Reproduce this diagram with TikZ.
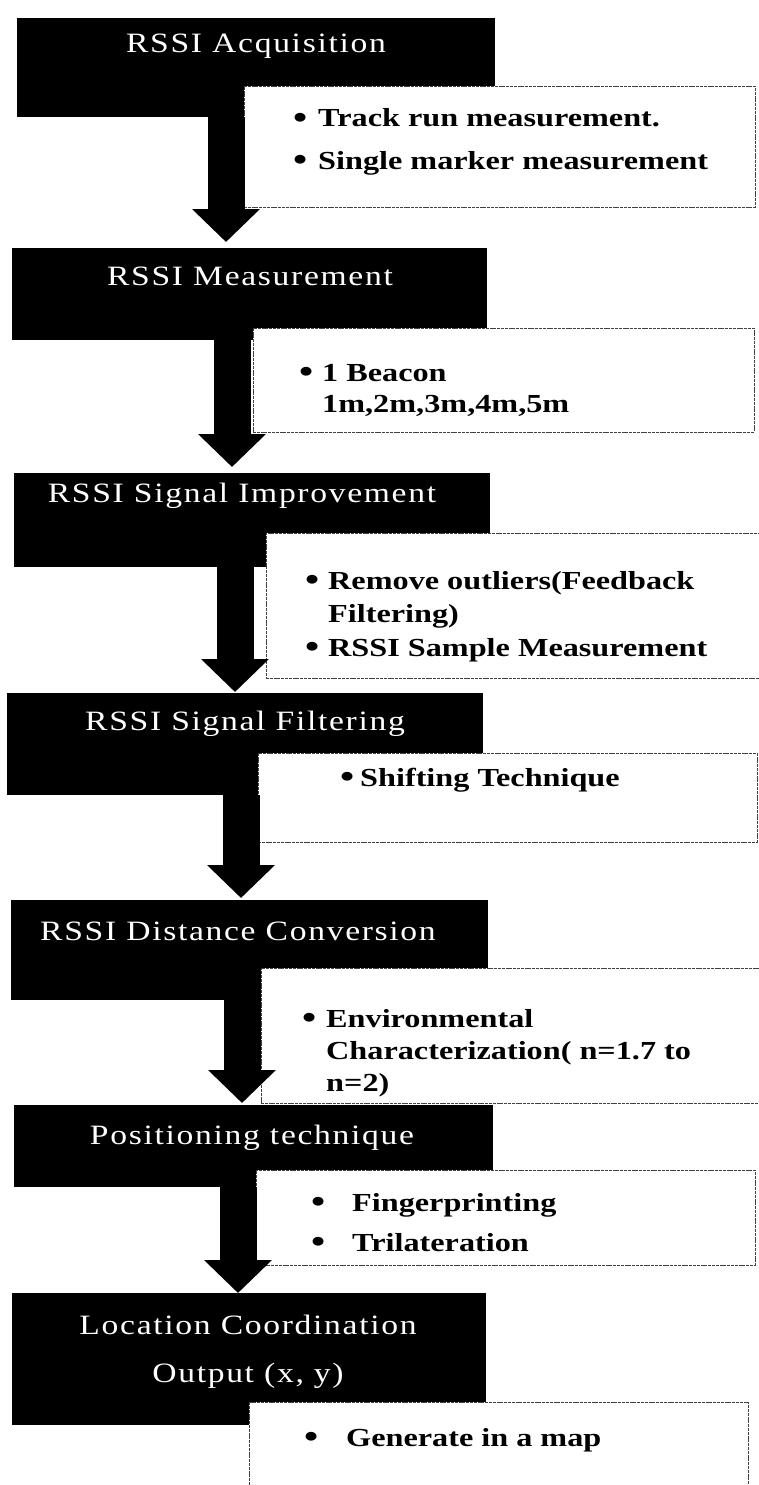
\documentclass[tikz,border=0pt]{standalone}
\usepackage{fontspec}
\setmainfont{Liberation Serif}
\newfontfamily\titlefont[FakeStretch=1.2,LetterSpace=6]{Liberation Serif}
\newfontfamily\itemfont[FakeStretch=1.24]{Liberation Serif}
\usetikzlibrary{arrows.meta}
\newcommand{\bitem}[2]{\llap{\raisebox{-1.6pt}{\scalebox{1.25}{\textbullet}}\hspace{#1}}#2}

\begin{document}
\begin{tikzpicture}[x=1pt,y=-1pt,
  blackbox/.style={fill=black, draw=none, anchor=north west, inner sep=0pt, outer sep=0pt},
  whitebox/.style={fill=white, draw=black!75, line width=0.9pt, dash pattern=on 3pt off 0.8pt, anchor=north west, inner sep=0pt, outer sep=0pt},
  titletext/.style={text=white, font=\titlefont\fontsize{28}{48}\selectfont, align=center, inner sep=0pt},
  itemtext/.style={text=black, font=\itemfont\bfseries\fontsize{26}{33}\selectfont, anchor=base west, inner sep=0pt},
  bigarrow/.style={draw=black, line width=37pt, -{Triangle[width=66pt,length=33pt]}}
]
\useasboundingbox (0,0) rectangle (758,1485);
\fill[white] (0,0) rectangle (758,1485);

% black step boxes
\node[blackbox, minimum width=478pt, minimum height=99pt]  (b1) at (17,18)   {};
\node[blackbox, minimum width=475pt, minimum height=92pt]  (b2) at (12,248)  {};
\node[blackbox, minimum width=476pt, minimum height=94pt]  (b3) at (14,473)  {};
\node[blackbox, minimum width=476pt, minimum height=102pt] (b4) at (7,693)   {};
\node[blackbox, minimum width=477pt, minimum height=100pt] (b5) at (11,900)  {};
\node[blackbox, minimum width=479pt, minimum height=82pt]  (b6) at (14,1105) {};
\node[blackbox, minimum width=474pt, minimum height=132pt] (b7) at (12,1293) {};

% titles
\node[titletext] (t1) at (256,46)   {RSSI Acquisition};
\node[titletext] (t2) at (250,276)  {RSSI Measurement};
\node[titletext] (t3) at (242,496)  {RSSI Signal Improvement};
\node[titletext] (t4) at (245,724)  {RSSI Signal Filtering};
\node[titletext] (t5) at (238,931)  {RSSI Distance Conversion};
\node[titletext] (t6) at (252,1138) {Positioning technique};
\node[titletext] (t7) at (248,1352) {Location Coordination\\Output (x, y)};

% white detail boxes
\node[whitebox, minimum width=511pt, minimum height=121pt] (w1) at (244,86)   {};
\node[whitebox, minimum width=501pt, minimum height=104pt] (w2) at (253,328)  {};
\node[whitebox, minimum width=496pt, minimum height=145pt] (w3) at (266,533)  {};
\node[whitebox, minimum width=499pt, minimum height=89pt]  (w4) at (258,753)  {};
\node[whitebox, minimum width=499pt, minimum height=135pt] (w5) at (261,968)  {};
\node[whitebox, minimum width=499pt, minimum height=95pt]  (w6) at (256,1170) {};
\node[whitebox, minimum width=499pt, minimum height=100pt] (w7) at (249,1402) {};

% bullet texts
\node[itemtext] (i1a) at (318,127)  {\bitem{11pt}{Track run measurement.}};
\node[itemtext] (i1b) at (318,169)  {\bitem{11pt}{Single marker measurement}};
\node[itemtext] (i2a) at (322,381)  {\bitem{9pt}{1 Beacon}};
\node[itemtext] (i2b) at (322,412)  {1m,2m,3m,4m,5m};
\node[itemtext] (i3a) at (328,589)  {\bitem{9pt}{Remove outliers(Feedback}};
\node[itemtext] (i3b) at (328,622)  {Filtering)};
\node[itemtext] (i3c) at (328,656)  {\bitem{9pt}{RSSI Sample Measurement}};
\node[itemtext] (i4a) at (360,786)  {\bitem{6pt}{Shifting Technique}};
\node[itemtext] (i5a) at (326,1027) {\bitem{10pt}{Environmental}};
\node[itemtext] (i5b) at (326,1059) {Characterization( n=1.7 to};
\node[itemtext] (i5c) at (326,1091) {n=2)};
\node[itemtext] (i6a) at (352,1211) {\bitem{27pt}{Fingerprinting}};
\node[itemtext] (i6b) at (352,1251) {\bitem{27pt}{Trilateration}};
\node[itemtext] (i7a) at (346,1446) {\bitem{28pt}{Generate in a map}};

% block arrows between steps
\draw[bigarrow] ([xshift=209pt]b1.south west) -- ([xshift=214pt,yshift=6pt]b2.north west);
\draw[bigarrow] ([xshift=220pt]b2.south west) -- ([xshift=218pt,yshift=6pt]b3.north west);
\draw[bigarrow] ([xshift=221pt]b3.south west) -- ([xshift=228pt,yshift=1pt]b4.north west);
\draw[bigarrow] ([xshift=234pt]b4.south west) -- ([xshift=230pt,yshift=2pt]b5.north west);
\draw[bigarrow] ([xshift=231pt]b5.south west) -- ([xshift=228pt,yshift=2pt]b6.north west);
\draw[bigarrow] ([xshift=224pt]b6.south west) -- ([xshift=226pt]b7.north west);
\end{tikzpicture}
\end{document}
